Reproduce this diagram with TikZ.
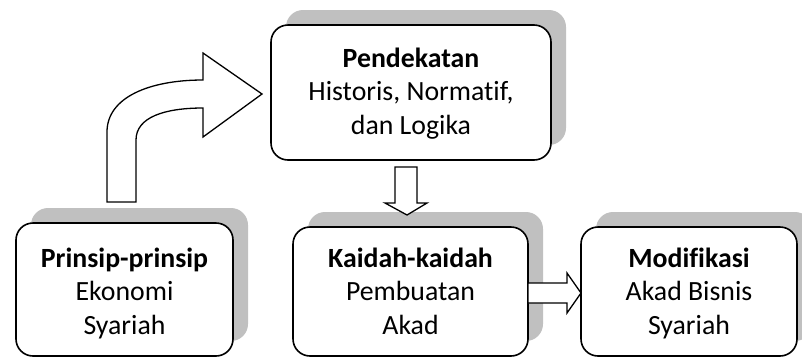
\documentclass[tikz,border=0pt]{standalone}
\usepackage{fontspec}
\setmainfont[Ligatures={NoCommon}]{Carlito}
\usetikzlibrary{shadows}
\definecolor{shadowgray}{RGB}{192,192,192}
\begin{document}
\begin{tikzpicture}[x=1pt,y=-1pt,
  box/.style={draw=black, line width=1.6pt, fill=white, rounded corners=17pt, inner sep=0pt,
    general shadow={shadow xshift=15pt, shadow yshift=15pt, fill=shadowgray}},
  boxtext/.style={align=center, font=\fontsize{27.8}{33.5}\selectfont, inner sep=0pt, anchor=base},
  blockarrow/.style={draw=black, line width=1.3pt, fill=white, line join=miter}]
\useasboundingbox (0,0) rectangle (802,357);
\clip (0,0) rectangle (802,357);

% boxes with their offset shadows
\node[box, minimum width=280pt, minimum height=135pt] (pend) at (411,92.5) {};
\node[box, minimum width=217pt, minimum height=133pt] (prinsip) at (124.5,289.5) {};
\node[box, minimum width=235pt, minimum height=129pt] (kaidah) at (410.5,291.5) {};
\node[box, minimum width=216pt, minimum height=129pt] (modif) at (689,291.5) {};

% box texts (anchored on the baseline of the last line)
\node[boxtext] (pendtext) at (411,134) {\textbf{Pendekatan}\\Historis, Normatif,\\dan Logika};
\node[boxtext] (prinsiptext) at (124.5,334) {\textbf{Prinsip-prinsip}\\Ekonomi\\Syariah};
\node[boxtext] (kaidahtext) at (410.5,334) {\textbf{Kaidah-kaidah}\\Pembuatan\\Akad};
\node[boxtext] (modiftext) at (689,334) {\textbf{Modifikasi}\\Akad Bisnis\\Syariah};

% bent block arrow: principles up and over to the approach box
\draw[blockarrow] (107,202) -- (107,132)
  .. controls (107,97) and (150,80) .. (203,80)
  -- (203,53) -- (262,94) -- (203,137) -- (203,108)
  .. controls (165,108) and (136,117) .. (136,140)
  -- (136,202) -- cycle;

% down block arrow: approach to rules
\draw[blockarrow] (395,167) -- (417,167) -- (417,203) -- (427,203) -- (407,215)
  -- (385,203) -- (395,203) -- cycle;

% right block arrow: rules to modification
\draw[blockarrow] (528,283) -- (567,283) -- (567,273) -- (581,293) -- (567,313)
  -- (567,303) -- (528,303) -- cycle;
\end{tikzpicture}
\end{document}
